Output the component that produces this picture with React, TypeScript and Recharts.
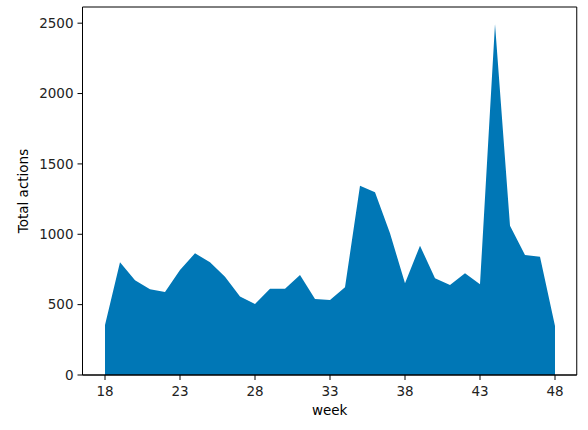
import React from "react";
import { AreaChart, Area, XAxis, YAxis, ReferenceArea } from "recharts";

const weeks = [18,19,20,21,22,23,24,25,26,27,28,29,30,31,32,33,34,35,36,37,38,39,40,41,42,43,44,45,46,47,48];
const totals = [355,801,673,609,590,746,865,801,699,557,505,613,613,711,540,533,623,1345,1298,1007,652,919,687,640,723,645,2495,1061,853,841,348];
const xTicks = [18,23,28,33,38,43,48];
const yTicks = [0,500,1000,1500,2000,2500];

const data = weeks.map((w, i) => ({ week: w, total: totals[i] }));

const FONT = "DejaVu Sans";
const FILL = "#0077b6";
const X_DOMAIN: [number, number] = [16.5, 49.45];
const Y_DOMAIN: [number, number] = [0, 2615];

const YLabel = (props: any) => {
  const vb = props.viewBox || {};
  const cx = vb.x + 23;
  const cy = vb.y + vb.height / 2;
  return (
    <text x={cx} y={cy} transform={`rotate(-90 ${cx} ${cy})`} textAnchor="middle" dominantBaseline="central" fontFamily={FONT} fontSize={13.5} fill="#000">
      Total actions
    </text>
  );
};

const XLabel = (props: any) => {
  const vb = props.viewBox || {};
  return (
    <text x={vb.x + vb.width / 2} y={vb.y + 40} textAnchor="middle" fontFamily={FONT} fontSize={13.5} fill="#000">
      week
    </text>
  );
};

export default function App() {
  return (
    <div style={{ position: "absolute", left: 0, top: 0, background: "#fff" }}>
      <AreaChart width={588} height={430} data={data} margin={{ top: 7, right: 11.25, bottom: 0, left: 0 }}>
        <XAxis
          dataKey="week"
          type="number"
          domain={X_DOMAIN}
          ticks={xTicks}
          allowDataOverflow
          height={55}
          tickSize={5}
          tickMargin={6}
          axisLine={{ stroke: "#000" }}
          tickLine={{ stroke: "#000" }}
          tick={{ fontFamily: FONT, fontSize: 13.5, fill: "#222" }}
          label={<XLabel />}
        />
        <YAxis
          type="number"
          domain={Y_DOMAIN}
          ticks={yTicks}
          allowDataOverflow
          width={82.5}
          tickSize={5}
          tickMargin={4}
          axisLine={{ stroke: "#000" }}
          tickLine={{ stroke: "#000" }}
          tick={{ fontFamily: FONT, fontSize: 13.5, fill: "#222" }}
          label={<YLabel />}
        />
        <Area
          type="linear"
          dataKey="total"
          stroke="none"
          fill={FILL}
          fillOpacity={1}
          isAnimationActive={false}
          dot={false}
          activeDot={false}
        />
        <ReferenceArea x1={X_DOMAIN[0]} x2={X_DOMAIN[1]} y1={Y_DOMAIN[0]} y2={Y_DOMAIN[1]} fill="none" stroke="#000" strokeWidth={1} ifOverflow="visible" />
      </AreaChart>
    </div>
  );
}
